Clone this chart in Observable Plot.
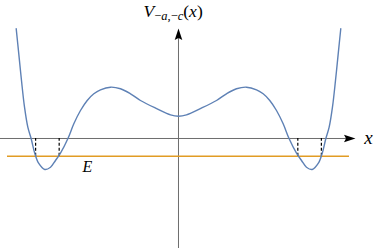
<!DOCTYPE html>
<html><head><meta charset="utf-8">
<script src="https://cdn.jsdelivr.net/npm/d3@7"></script>
<script src="https://cdn.jsdelivr.net/npm/@observablehq/plot@0.6"></script>
<style>body{margin:0;background:#fff} svg text, svg tspan{font-family:"Liberation Serif","DejaVu Serif",serif !important;}</style>
</head><body><div id="chart"></div>
<script>
// Potential curve
const xs = [-2.459,-2.420,-2.379,-2.333,-2.283,-2.232,-2.177,-2.117,-2.026,-1.939,-1.864,-1.788,-1.677,-1.586,-1.485,-1.383,-1.283,-1.182,-1.030,-0.879,-0.727,-0.576,-0.323,-0.121,0,
            0.121,0.323,0.576,0.727,0.879,1.030,1.182,1.283,1.383,1.485,1.586,1.677,1.788,1.864,1.939,2.026,2.117,2.177,2.232,2.283,2.333,2.379,2.420,2.459];
const vs = [3.657,2.823,1.933,1.043,0.377,-0.01,-0.5,-0.833,-1.033,-0.957,-0.733,-0.49,-0.01,0.49,0.933,1.267,1.49,1.623,1.71,1.657,1.49,1.267,0.99,0.79,0.743,
            0.79,0.99,1.267,1.49,1.657,1.71,1.623,1.49,1.267,0.933,0.49,-0.01,-0.49,-0.733,-0.957,-1.033,-0.833,-0.5,-0.01,0.377,1.043,1.933,2.823,3.657];
const energy = -0.59;
const turningX = [-2.165, -1.808, 1.808, 2.165];
const energyRange = [-2.591, 2.591];
const xAxisRange = [-2.697, 2.682];
const yAxisRange = [-3.667, 3.667];
const labelY = "V−a,−c(x)";
const labelX = "x";
const labelE = "E";
const labelYPos = [-0.53, 4.043];
const labelXPos = [2.879, -0.18];
const labelEPos = [-1.379, -1.12];

const curve = xs.map((x, i) => ({x, v: vs[i]}));
const arrows = [
  {x: 0, y: yAxisRange[1], rotate: 0},
  {x: xAxisRange[1], y: 0, rotate: 90}
];
const arrowHead = {draw(ctx) { ctx.moveTo(0, 0); ctx.lineTo(-3.8, 11.5); ctx.lineTo(0, 9.5); ctx.lineTo(3.8, 11.5); ctx.closePath(); }};
const serif = "Liberation Serif";

const plot = Plot.plot({
  width: 374, height: 248,
  margin: 0,
  x: {domain: [-2.697, 2.970], axis: null},
  y: {domain: [-3.667, 4.6], axis: null},
  marks: [
    Plot.ruleY([0], {x1: xAxisRange[0], x2: xAxisRange[1] - 0.1, stroke: "#6e6e6e", strokeWidth: 1}),
    Plot.ruleX([0], {y1: yAxisRange[0], y2: yAxisRange[1] - 0.2, stroke: "#6e6e6e", strokeWidth: 1}),
    Plot.dot(arrows, {x: "x", y: "y", rotate: "rotate", symbol: arrowHead, fill: "black", stroke: "none"}),
    Plot.ruleY([energy], {x1: energyRange[0], x2: energyRange[1], stroke: "#E19C24", strokeWidth: 1.5}),
    Plot.ruleX(turningX, {y1: energy, y2: 0, stroke: "black", strokeWidth: 1.2, strokeDasharray: "3,2"}),
    Plot.line(curve, {x: "x", y: "v", curve: "catmull-rom", stroke: "#5E81B5", strokeWidth: 1.4}),
    Plot.text([labelY], {x: labelYPos[0], y: labelYPos[1], text: d => d, textAnchor: "start", lineAnchor: "bottom", fontSize: 17.5, fontFamily: serif}),
    Plot.text([labelX], {x: labelXPos[0], y: labelXPos[1], text: d => d, textAnchor: "middle", lineAnchor: "bottom", fontSize: 19, fontStyle: "italic", fontFamily: serif}),
    Plot.text([labelE], {x: labelEPos[0], y: labelEPos[1], text: d => d, textAnchor: "middle", lineAnchor: "bottom", fontSize: 16, fontStyle: "italic", fontFamily: serif})
  ]
});

// Build subscript for the V label
d3.select(plot).selectAll("text").filter(function() { return this.textContent === labelY; }).each(function() {
  const t = d3.select(this);
  t.text("");
  const parts = [
    ["V", "italic", 17.5, 0],
    ["−", "normal", 12.5, 3],
    ["a", "italic", 12.5, 0],
    [",", "normal", 12.5, 0],
    ["−", "normal", 12.5, 0],
    ["c", "italic", 12.5, 0],
    ["(", "normal", 17.5, -3],
    ["x", "italic", 17.5, 0],
    [")", "normal", 17.5, 0]
  ];
  for (const [s, style, size, dy] of parts) {
    t.append("tspan").attr("font-style", style).attr("font-size", size).attr("dy", dy).text(s);
  }
});

document.getElementById("chart").append(plot);
</script>
</body></html>
